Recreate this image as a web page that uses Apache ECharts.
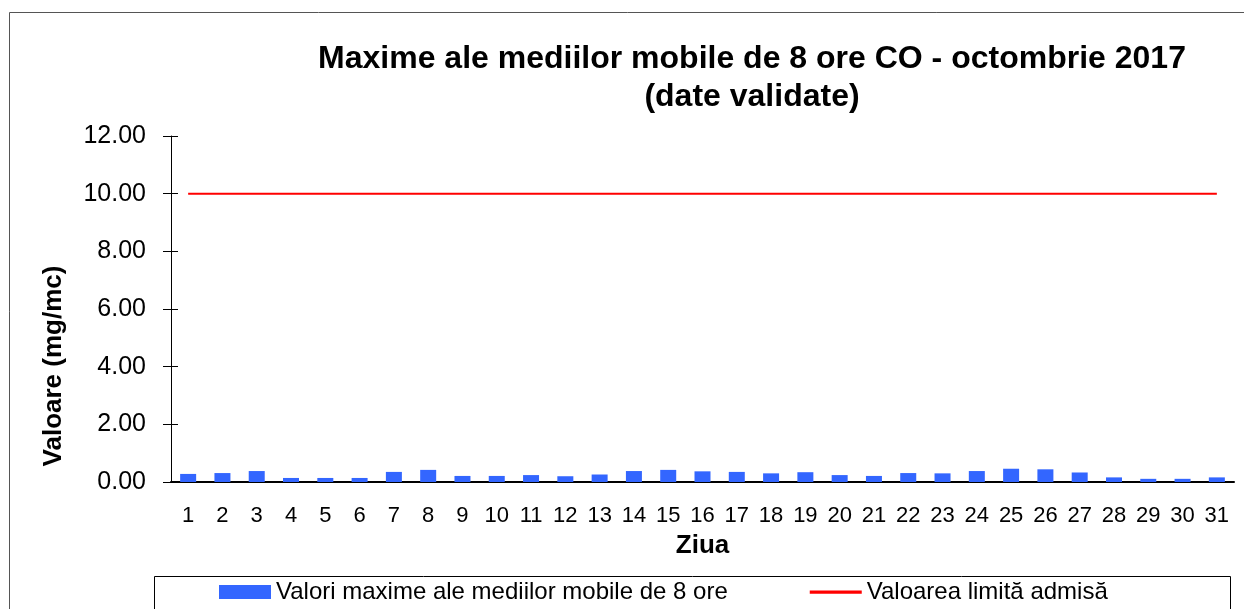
<!DOCTYPE html>
<html>
<head>
<meta charset="utf-8">
<script src="https://cdn.jsdelivr.net/npm/echarts@6/dist/echarts.min.js"></script>
<style>html,body{margin:0;padding:0;background:#fff}#c{width:1244px;height:609px}</style>
</head>
<body>
<div id="c"></div>
<script>
const days = ['1','2','3','4','5','6','7','8','9','10','11','12','13','14','15','16','17','18','19','20','21','22','23','24','25','26','27','28','29','30','31'];
const maxValues = [0.28,0.31,0.38,0.14,0.14,0.14,0.35,0.42,0.21,0.21,0.24,0.20,0.26,0.38,0.42,0.37,0.35,0.30,0.34,0.24,0.21,0.31,0.30,0.38,0.46,0.44,0.33,0.16,0.11,0.11,0.16];
const limitValue = 10;
const limitValues = days.map(() => limitValue);
const yTicks = {min: 0, max: 12, interval: 2};
const titleText = 'Maxime ale mediilor mobile de 8 ore CO - octombrie 2017\n(date validate)';
const seriesNames = ['Valori maxime ale mediilor mobile de 8 ore', 'Valoarea limită admisă'];

const FONT = '"Liberation Sans", Arial, sans-serif';
const chart = echarts.init(document.getElementById('c'), null, {renderer: 'canvas'});
chart.setOption({
  animation: false,
  backgroundColor: '#fff',
  graphic: [
    {type: 'rect', left: 7, top: 10, shape: {width: 1245, height: 610}, style: {fill: 'none', stroke: '#555', lineWidth: 1}, z: -1},
    {type: 'rect', left: 152, top: 574, shape: {width: 1076, height: 33}, style: {fill: 'none', stroke: '#000', lineWidth: 1}, z: -1}
  ],
  title: {
    text: titleText,
    left: 747, top: 35, textAlign: 'center',
    textStyle: {fontFamily: FONT, fontSize: 32, fontWeight: 'bold', color: '#000', lineHeight: 38}
  },
  legend: {
    left: 214, top: 575, itemGap: 82, itemWidth: 52, itemHeight: 14,
    textStyle: {fontFamily: FONT, fontSize: 24, color: '#000'},
    data: [
      {name: seriesNames[0], icon: 'rect'},
      {name: seriesNames[1], icon: 'path://M0,0 L40,0 L40,2.5 L0,2.5 Z', itemStyle: {color: '#ff0000'}}
    ]
  },
  grid: {left: 171, right: 10, top: 136, bottom: 127, containLabel: false},
  xAxis: {
    type: 'category', data: days,
    name: 'Ziua', nameLocation: 'middle', nameGap: 51,
    nameTextStyle: {fontFamily: FONT, fontSize: 26, fontWeight: 'bold', color: '#000'},
    axisLine: {lineStyle: {color: '#000', width: 2}},
    axisTick: {show: false},
    axisLabel: {fontFamily: FONT, fontSize: 22, color: '#000', margin: 23, interval: 0}
  },
  yAxis: [{
    type: 'value', min: yTicks.min, max: yTicks.max, interval: yTicks.interval,
    name: 'Valoare (mg/mc)', nameLocation: 'middle', nameGap: 104, nameRotate: 90,
    nameTextStyle: {fontFamily: FONT, fontSize: 26, fontWeight: 'bold', color: '#000', padding: [0, 114, 0, 0]},
    axisLine: {show: true, lineStyle: {color: '#000', width: 1}},
    axisTick: {show: true, length: 8, lineStyle: {color: '#000'}},
    axisLabel: {fontFamily: FONT, fontSize: 25, color: '#000', margin: 25, formatter: v => v.toFixed(2)},
    splitLine: {show: false}
  }, {
    type: 'value', position: 'left', min: yTicks.min, max: yTicks.max, interval: yTicks.interval,
    axisLine: {show: false},
    axisTick: {show: true, inside: true, length: 7, lineStyle: {color: '#000'}},
    axisLabel: {show: false}, splitLine: {show: false}
  }],
  series: [
    {name: seriesNames[0], type: 'bar', data: maxValues, barWidth: 16, itemStyle: {color: '#3366ff'}, z: 3},
    {name: seriesNames[1], type: 'line', data: limitValues, symbol: 'none', lineStyle: {color: '#ff0000', width: 2}, itemStyle: {color: '#ff0000'}, z: 2}
  ]
});
</script>
</body>
</html>
